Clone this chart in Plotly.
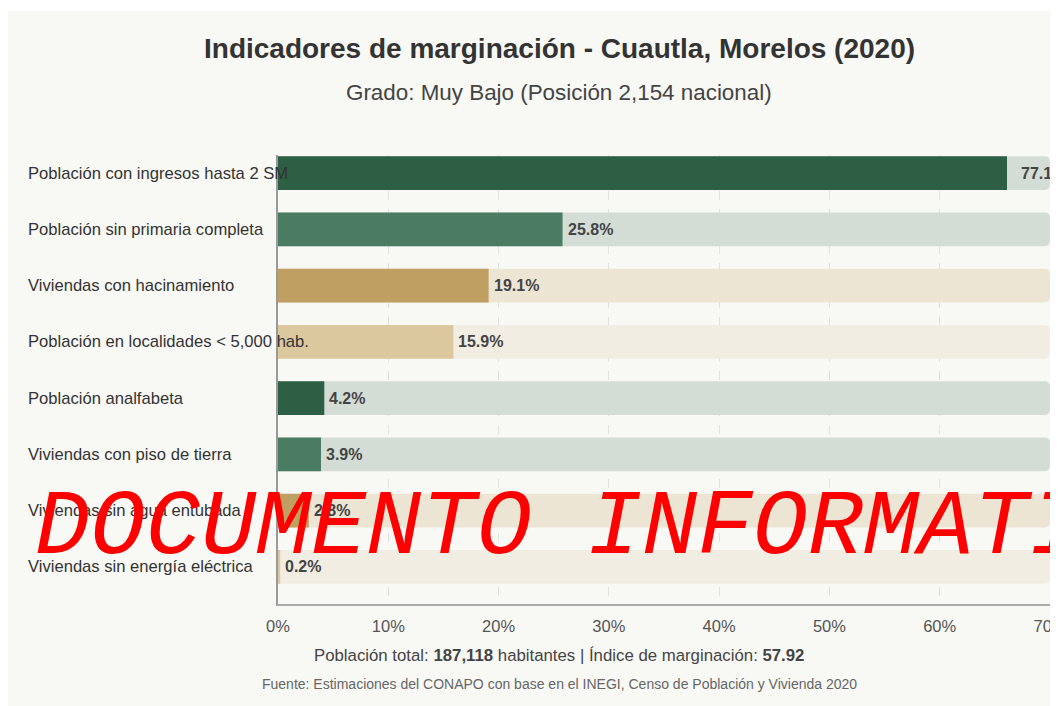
import plotly.graph_objects as go

# ---- data ----
categories = [
    "Población con ingresos hasta 2 SM",
    "Población sin primaria completa",
    "Viviendas con hacinamiento",
    "Población en localidades < 5,000 hab.",
    "Población analfabeta",
    "Viviendas con piso de tierra",
    "Viviendas sin agua entubada",
    "Viviendas sin energía eléctrica",
]
values = [77.1, 25.8, 19.1, 15.9, 4.2, 3.9, 2.8, 0.2]
tick_vals = [0, 10, 20, 30, 40, 50, 60, 70]
tick_text = ["0%", "10%", "20%", "30%", "40%", "50%", "60%", "70%"]
title_text = "Indicadores de marginación - Cuautla, Morelos (2020)"
subtitle_text = "Grado: Muy Bajo (Posición 2,154 nacional)"
footer_text = ("Población total: <b>187,118</b> habitantes | "
               "Índice de marginación: <b>57.92</b>")
source_text = ("Fuente: Estimaciones del CONAPO con base en el INEGI, "
               "Censo de Población y Vivienda 2020")
watermark_text = "DOCUMENTO INFORMATIVO"

# ---- style ----
W, H = 1058, 706
OFF = 8  # page body margin
PLOT_X0, PLOT_X1, PLOT_Y0, PLOT_Y1 = 278, 1050, 155, 604  # page pixels
L = PLOT_X0 - OFF
R = W - (PLOT_X1 - OFF)
T = PLOT_Y0 - OFF
B = H - (PLOT_Y1 - OFF)
PW, PH = W - L - R, H - T - B
XMAX = 70
LABEL_ROOM = 3.9
bar_palette = ["#2d5f45", "#4a7c63", "#c0a062", "#dbc89e"]
track_palette = ["#d3ddd6", "#d3ddd6", "#ede5d4", "#f2ede2"]
FONT = "Liberation Sans, Arial, sans-serif"
MONO = "Courier New, Courier, Nimbus Mono PS, FreeMono, Liberation Mono, monospace"

bar_colors = [bar_palette[i % 4] for i in range(len(values))]
track_colors = [track_palette[i % 4] for i in range(len(values))]
shown = [min(v, XMAX - LABEL_ROOM) for v in values]


def px_x(px):  # page pixel -> paper fraction
    return (px - OFF - L) / PW


def px_y(py):
    return (H - B - (py - OFF)) / PH


fig = go.Figure()
fig.add_trace(go.Bar(
    y=categories, x=[XMAX] * len(values), orientation="h",
    marker=dict(color=track_colors, line=dict(width=0)),
    width=0.6, hoverinfo="skip", showlegend=False,
))
fig.add_trace(go.Bar(
    y=categories, x=shown, orientation="h",
    marker=dict(color=bar_colors, line=dict(width=0)),
    width=0.6, hoverinfo="skip", showlegend=False,
))

annotations = []
for cat, v, s in zip(categories, values, shown):
    annotations.append(dict(
        x=px_x(26), xref="paper", y=cat, yref="y", xanchor="left",
        yanchor="middle", text=cat, showarrow=False,
        font=dict(family=FONT, size=16.6, color="#333333"),
    ))
    annotations.append(dict(
        x=s, xref="x", y=cat, yref="y", xanchor="left", yanchor="middle",
        xshift=12 if v > s else 3,
        text=f"<b>{v:.1f}%</b>", showarrow=False,
        font=dict(family=FONT, size=16, color="#444444"),
    ))

annotations += [
    dict(x=px_x(559), y=px_y(48), xref="paper", yref="paper",
         text=f"<b>{title_text}</b>", showarrow=False,
         xanchor="center", yanchor="middle",
         font=dict(family=FONT, size=28, color="#333333")),
    dict(x=px_x(559), y=px_y(92), xref="paper", yref="paper",
         text=subtitle_text, showarrow=False,
         xanchor="center", yanchor="middle",
         font=dict(family=FONT, size=22.4, color="#444444")),
    dict(x=px_x(559), y=px_y(655), xref="paper", yref="paper",
         text=footer_text, showarrow=False,
         xanchor="center", yanchor="middle",
         font=dict(family=FONT, size=16.8, color="#444444")),
    dict(x=px_x(559), y=px_y(684), xref="paper", yref="paper",
         text=source_text, showarrow=False,
         xanchor="center", yanchor="middle",
         font=dict(family=FONT, size=14, color="#666666")),
    dict(x=px_x(33), y=px_y(528), xref="paper", yref="paper",
         text=watermark_text, showarrow=False,
         xanchor="left", yanchor="middle",
         font=dict(family=MONO, size=92, color="#ff0000", style="italic")),
]

fig.update_layout(
    width=W, height=H,
    margin=dict(l=L, r=R, t=T, b=B, pad=0, autoexpand=False),
    paper_bgcolor="#ffffff",
    plot_bgcolor="rgba(0,0,0,0)",
    barmode="overlay",
    barcornerradius=5,
    showlegend=False,
    hovermode=False,
    annotations=annotations,
    shapes=[dict(type="rect", xref="paper", yref="paper",
                 x0=px_x(7), x1=px_x(1080), y0=px_y(730), y1=px_y(11),
                 fillcolor="#f8f8f5", line=dict(width=0), layer="below")],
    xaxis=dict(
        range=[0, XMAX], tickvals=tick_vals, ticktext=tick_text,
        showgrid=True, gridcolor="#e2e2e2", griddash="dash", gridwidth=1,
        zeroline=False, showline=True, linecolor="#aaaaaa", linewidth=2,
        ticks="", ticklabelstandoff=6, ticklabeloverflow="allow",
        automargin=False,
        tickfont=dict(family=FONT, size=16.5, color="#555555"),
        fixedrange=True,
    ),
    yaxis=dict(
        categoryorder="array", categoryarray=categories,
        range=[7.66, -0.32], autorange=False,
        showticklabels=False, showgrid=False, zeroline=False,
        showline=True, linecolor="#999999", linewidth=1.5,
        ticks="", fixedrange=True,
    ),
)

fig.write_html("out.html")
